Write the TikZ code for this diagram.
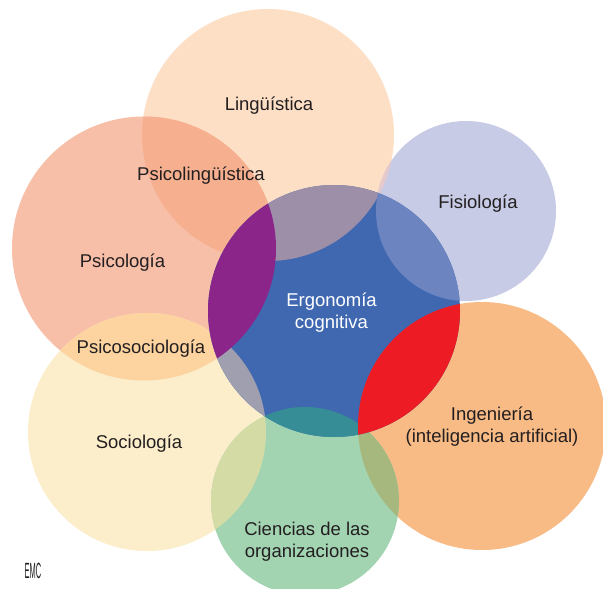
\documentclass[tikz,border=0pt]{standalone}
\usepackage{fontspec}
\setmainfont{Liberation Sans}
\usepackage{graphicx}
\definecolor{cLing}{HTML}{FDDFC5}
\definecolor{cPsico}{HTML}{F8BFA8}
\definecolor{cPsLi}{HTML}{F7B08F}
\definecolor{cFisio}{HTML}{C7CBE5}
\definecolor{cLiFi}{HTML}{E6C9CB}
\definecolor{cCent}{HTML}{4068B1}
\definecolor{cCeLi}{HTML}{9E8FA9}
\definecolor{cCePs}{HTML}{8B2589}
\definecolor{cCeFi}{HTML}{6C84C0}
\definecolor{cCeIn}{HTML}{ED1C24}
\definecolor{cCeSo}{HTML}{A09FB0}
\definecolor{cCeCi}{HTML}{368D96}
\definecolor{cSocio}{HTML}{FCEECB}
\definecolor{cSoPs}{HTML}{FDD3A0}
\definecolor{cInge}{HTML}{F9BB86}
\definecolor{cCien}{HTML}{A3D4B2}
\definecolor{cCiSo}{HTML}{D4DBA5}
\definecolor{cCiIn}{HTML}{A7B87F}
\definecolor{cText}{HTML}{231F20}
\def\pLing{(268,135) circle (126pt)}
\def\pPsico{(144,248.5) circle (132pt)}
\def\pCent{(334,311) circle (126pt)}
\def\pFisio{(466,211) circle (90pt)}
\def\pInge{(482,426) circle (124pt)}
\def\pSocio{(147,432) circle (119pt)}
\def\pCien{(305,501) circle (94pt)}
\newcommand{\lensfill}[3]{\begin{scope}\clip #1;\fill[#3] #2;\end{scope}}
\begin{document}
\begin{tikzpicture}[x=1pt,y=-1pt,
  lbl/.style={text=cText,font=\fontsize{18.5}{22}\selectfont,align=center,inner sep=0pt},
  wlbl/.style={lbl,text=white}]
\useasboundingbox (0,0) rectangle (603,589);
\clip (0,0) rectangle (603,589);
\fill[white] (0,0) rectangle (603,589);
% base circles
\fill[cLing] \pLing;
\fill[cPsico] \pPsico;
\fill[cFisio] \pFisio;
\fill[cSocio] \pSocio;
\fill[cInge] \pInge;
\fill[cCien] \pCien;
% pairwise overlaps
\lensfill{\pLing}{\pPsico}{cPsLi}
\lensfill{\pLing}{\pFisio}{cLiFi}
\lensfill{\pPsico}{\pSocio}{cSoPs}
\lensfill{\pSocio}{\pCien}{cCiSo}
\lensfill{\pInge}{\pCien}{cCiIn}
% central circle
\fill[cCent] \pCent;
\lensfill{\pCent}{\pLing}{cCeLi}
\lensfill{\pCent}{\pFisio}{cCeFi}
\lensfill{\pCent}{\pSocio}{cCeSo}
\lensfill{\pCent}{\pCien}{cCeCi}
\lensfill{\pCent}{\pPsico}{cCePs}
\lensfill{\pCent}{\pInge}{cCeIn}
% labels
\node[lbl] (ling) at (269,106) {Lingüística};
\node[lbl] (psli) at (201,176) {Psicolingüística};
\node[lbl] (psico) at (122.5,263) {Psicología};
\node[lbl] (psso) at (141,349) {Psicosociología};
\node[lbl] (fisio) at (478,204) {Fisiología};
\node[wlbl] (cent) at (331.5,313) {Ergonomía\\cognitiva};
\node[lbl] (inge) at (492,427) {Ingeniería\\(inteligencia artificial)};
\node[lbl] (socio) at (139,444) {Sociología};
\node[lbl] (cien) at (307,542) {Ciencias de las\\organizaciones};
\node[text=cText,inner sep=0pt] (emc) at (33,571) {\scalebox{0.34}[1]{\fontsize{22}{22}\selectfont EMC}};
\end{tikzpicture}
\end{document}
